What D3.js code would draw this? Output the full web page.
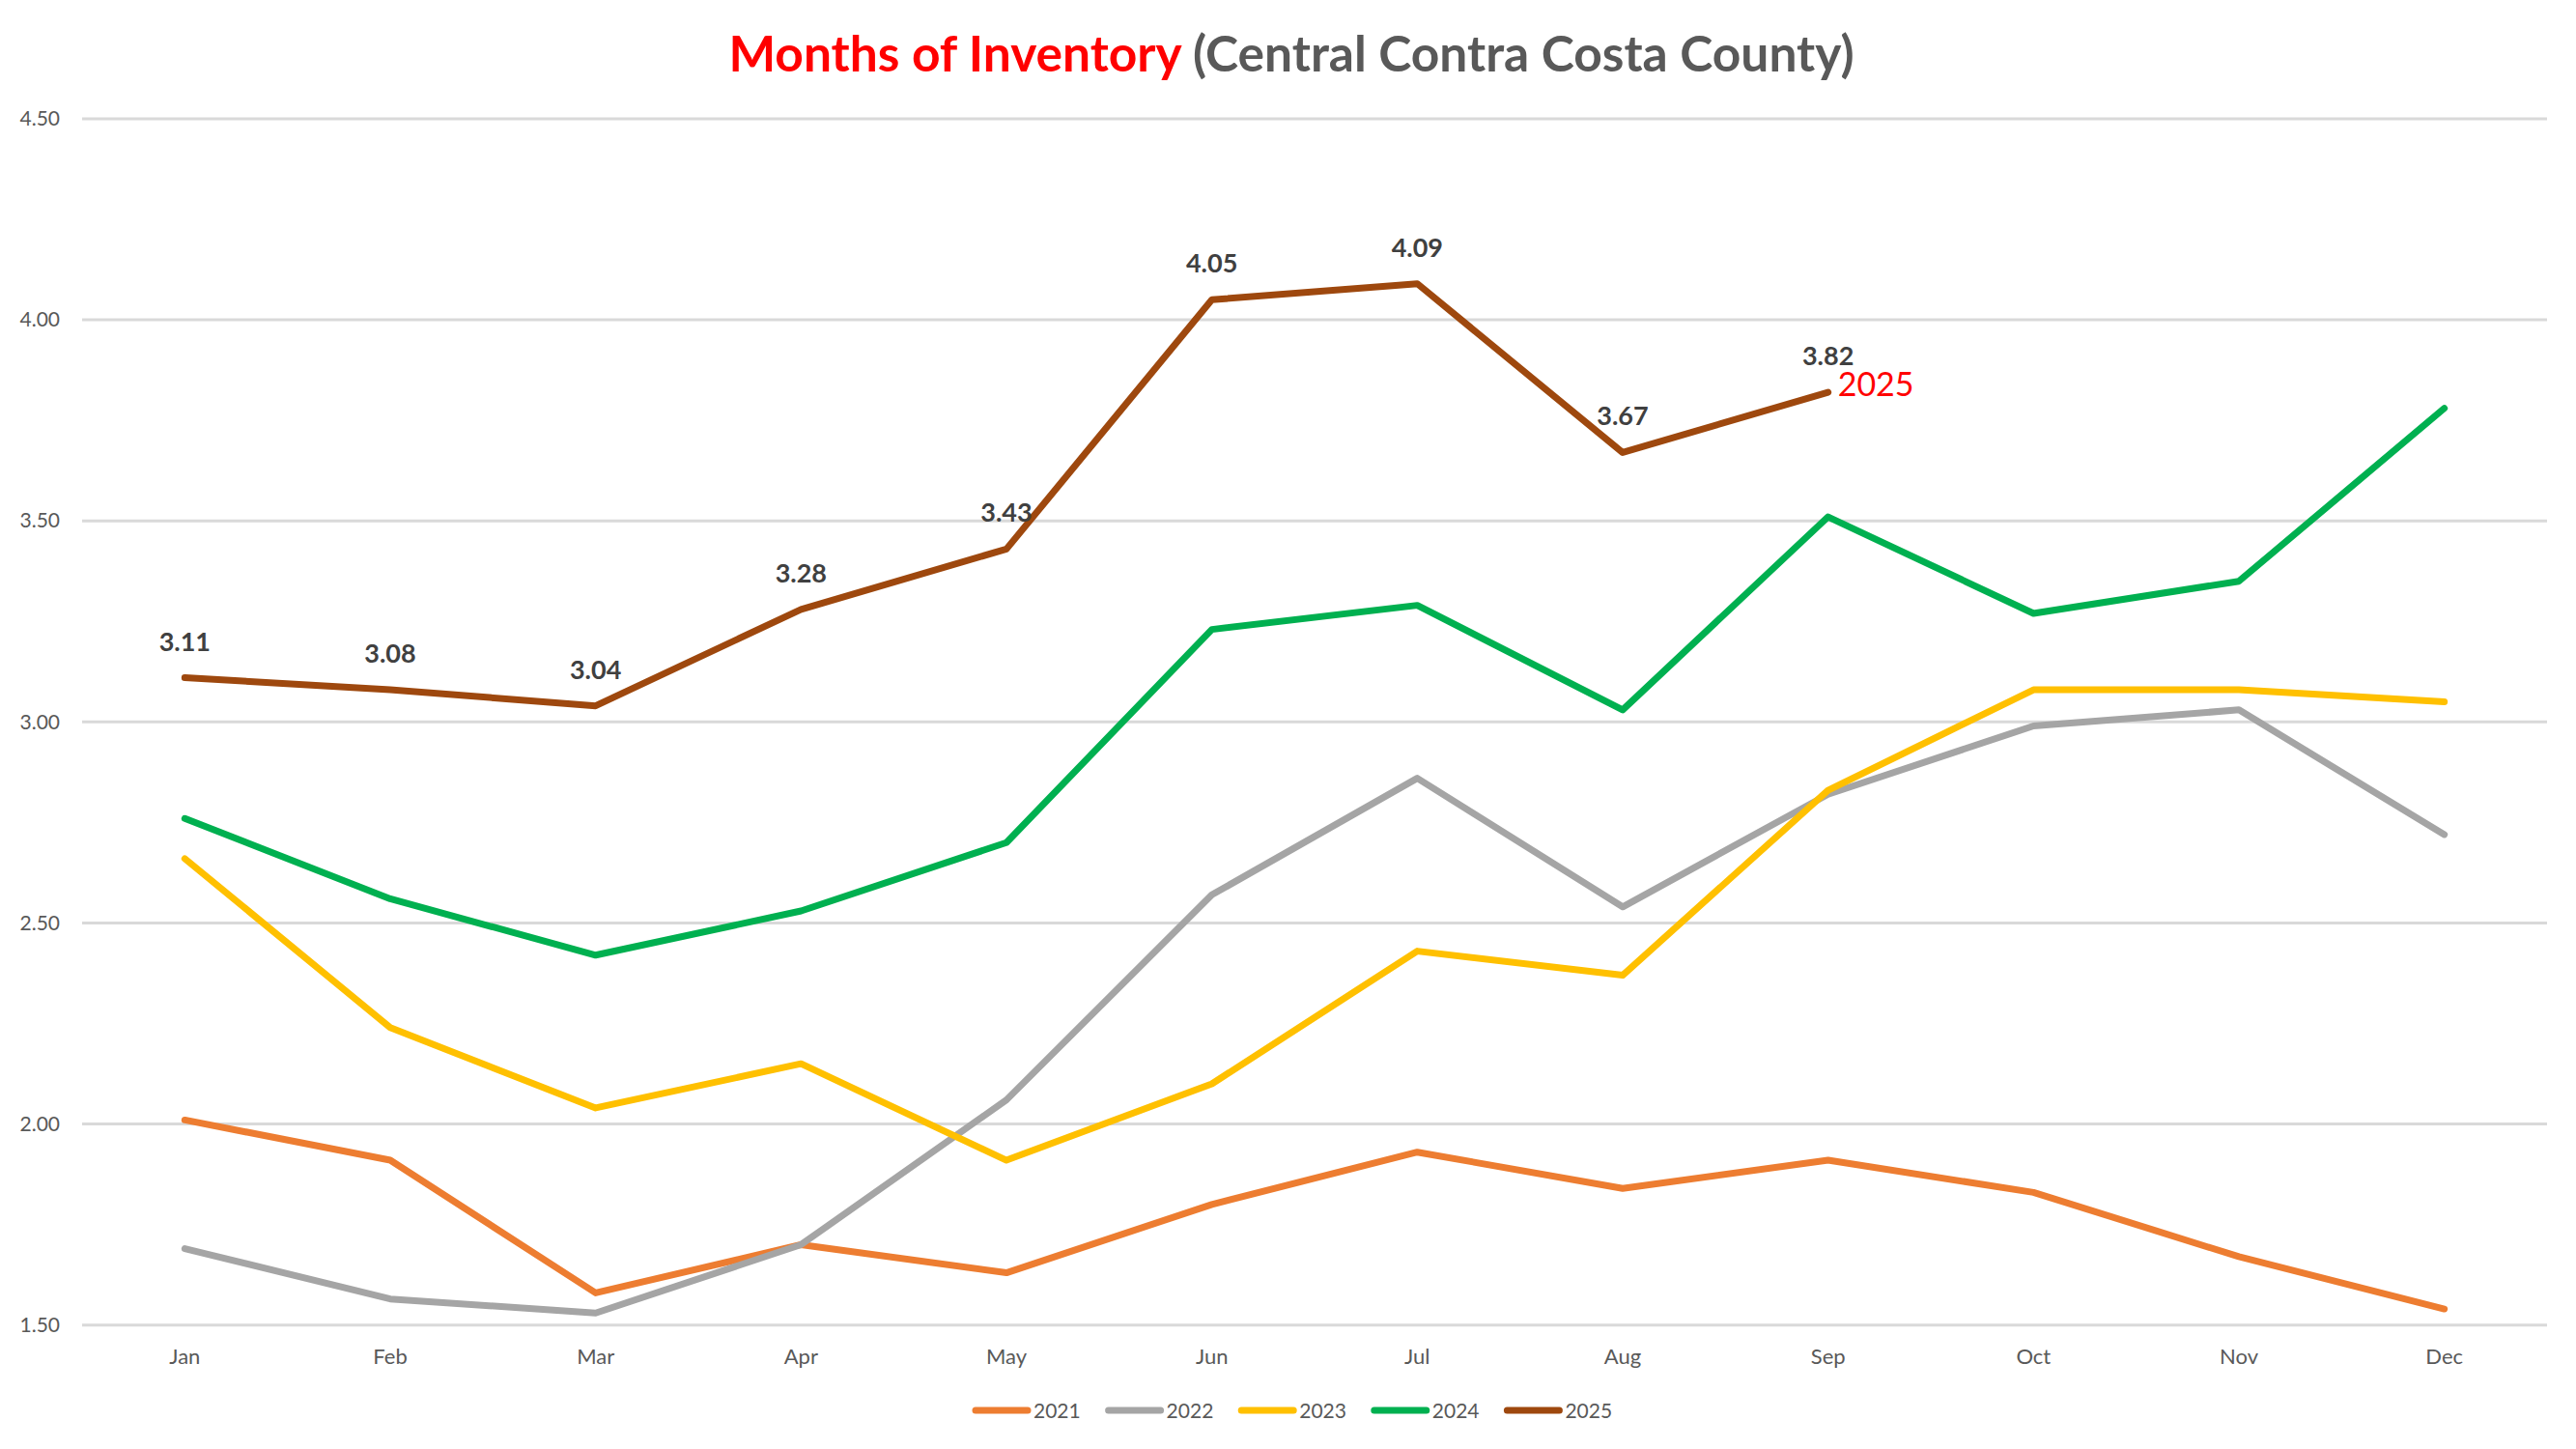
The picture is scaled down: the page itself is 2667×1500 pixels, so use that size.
<!DOCTYPE html>
<html>
<head>
<meta charset="utf-8">
<script src="https://cdn.jsdelivr.net/npm/d3@7"></script>
<style>
  html, body { margin: 0; padding: 0; background: #ffffff; }
  svg { display: block; }
</style>
</head>
<body>
<svg id="chart" width="2667" height="1500"></svg>
<script>
// ---- Data ----
const months = ["Jan","Feb","Mar","Apr","May","Jun","Jul","Aug","Sep","Oct","Nov","Dec"];
const years = ["2021","2022","2023","2024","2025"];
const s2021 = [2.01, 1.91, 1.58, 1.70, 1.63, 1.80, 1.93, 1.84, 1.91, 1.83, 1.67, 1.54];
const s2022 = [1.69, 1.565, 1.53, 1.70, 2.06, 2.57, 2.86, 2.54, 2.82, 2.99, 3.03, 2.72];
const s2023 = [2.66, 2.24, 2.04, 2.15, 1.91, 2.10, 2.43, 2.37, 2.83, 3.08, 3.08, 3.05];
const s2024 = [2.76, 2.56, 2.42, 2.53, 2.70, 3.23, 3.29, 3.03, 3.51, 3.27, 3.35, 3.78];
const s2025 = [3.11, 3.08, 3.04, 3.28, 3.43, 4.05, 4.09, 3.67, 3.82];
const yTicks = [1.5, 2.0, 2.5, 3.0, 3.5, 4.0, 4.5];
const colors = ["#ED7D31", "#A5A5A5", "#FFC000", "#00B050", "#9E480E"];
const titleMain = "Months of Inventory";
const titleSub = " (Central Contra Costa County)";
const seriesLabel = "2025";

const seriesList = [s2021, s2022, s2023, s2024, s2025].map((vals, i) => ({
  name: years[i], color: colors[i], values: vals
}));

// ---- Layout ----
const W = 2667, H = 1500;
const plot = { left: 85, right: 2637, top: 123, bottom: 1371.7 };
const FONT = "Lato, 'Open Sans', sans-serif";

const svg = d3.select("#chart");
svg.append("rect").attr("width", W).attr("height", H).attr("fill", "#ffffff");

const x = d3.scaleBand().domain(months).range([plot.left, plot.right]).padding(0);
const y = d3.scaleLinear().domain([1.5, 4.5]).range([plot.bottom, plot.top]);
const cx = m => x(m) + x.bandwidth() / 2;

// Gridlines
svg.append("g").selectAll("line").data(yTicks).join("line")
  .attr("x1", plot.left).attr("x2", plot.right)
  .attr("y1", d => y(d)).attr("y2", d => y(d))
  .attr("stroke", "#D9D9D9").attr("stroke-width", 3);

// Y axis labels
const yAxis = d3.axisLeft(y).tickValues(yTicks).tickFormat(d3.format(".2f")).tickSize(0).tickPadding(0);
const yg = svg.append("g").attr("transform", `translate(62,0)`).call(yAxis);
yg.select(".domain").remove();
yg.selectAll("text").attr("font-family", FONT).attr("font-size", 21).attr("fill", "#595959");

// X axis labels
const xAxis = d3.axisBottom(x).tickSize(0).tickPadding(0);
const xg = svg.append("g").attr("transform", `translate(0,1396)`).call(xAxis);
xg.select(".domain").remove();
xg.selectAll("text").attr("font-family", FONT).attr("font-size", 22).attr("fill", "#595959").attr("dy", "0.71em");

// Lines
const line = d3.line().x((d, i) => cx(months[i])).y(d => y(d));
svg.append("g").selectAll("path").data(seriesList).join("path")
  .attr("d", d => line(d.values))
  .attr("fill", "none")
  .attr("stroke", d => d.color)
  .attr("stroke-width", 7)
  .attr("stroke-linejoin", "round")
  .attr("stroke-linecap", "round");

// Data labels for 2025
svg.append("g").selectAll("text").data(s2025).join("text")
  .attr("x", (d, i) => cx(months[i]))
  .attr("y", d => y(d) - 28)
  .attr("text-anchor", "middle")
  .attr("font-family", FONT).attr("font-weight", "bold").attr("font-size", 27)
  .attr("fill", "#404040")
  .text(d => d.toFixed(2));

// Series end label "2025"
const lastIdx = s2025.length - 1;
svg.append("text")
  .attr("x", cx(months[lastIdx]) + 10)
  .attr("y", y(s2025[lastIdx]) + 4)
  .attr("font-family", FONT).attr("font-size", 34)
  .attr("fill", "#FF0000")
  .text(seriesLabel);

// Title
const title = svg.append("text")
  .attr("x", 1337).attr("y", 74)
  .attr("text-anchor", "middle")
  .attr("font-family", FONT).attr("font-weight", "bold").attr("font-size", 51.5);
title.append("tspan").attr("fill", "#FF0000").text(titleMain);
title.append("tspan").attr("fill", "#595959").text(titleSub);

// Legend
const legendStart = 1007, legendStep = 137.6, legendY = 1460;
const lg = svg.append("g").selectAll("g").data(seriesList).join("g")
  .attr("transform", (d, i) => `translate(${legendStart + i * legendStep},${legendY})`);
lg.append("line").attr("x1", 3).attr("x2", 57).attr("y1", 0).attr("y2", 0)
  .attr("stroke", d => d.color).attr("stroke-width", 7).attr("stroke-linecap", "round");
lg.append("text").attr("x", 63).attr("y", 0).attr("dy", "0.36em")
  .attr("font-family", FONT).attr("font-size", 21).attr("fill", "#595959")
  .text(d => d.name);
</script>
</body>
</html>
